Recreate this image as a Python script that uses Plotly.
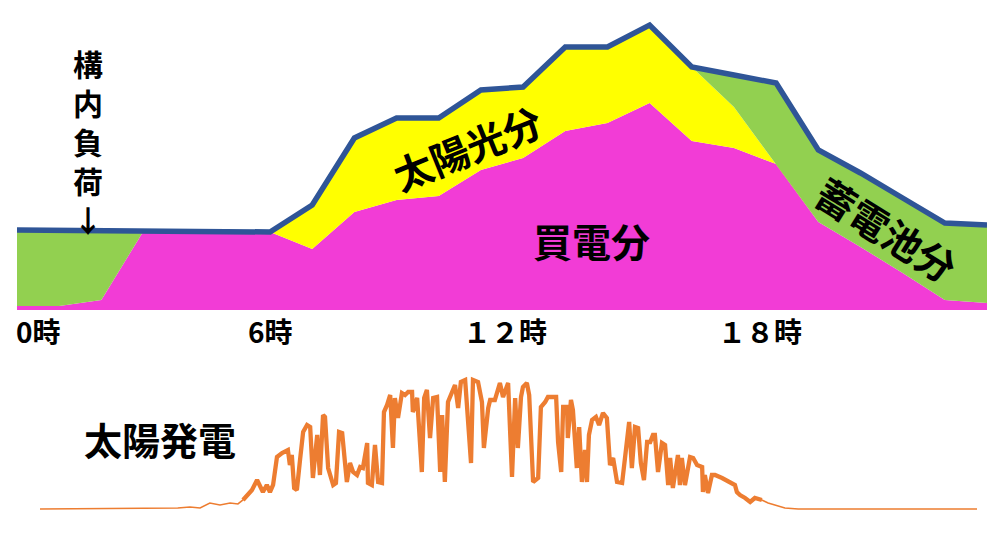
import plotly.graph_objects as go

# ---- top chart: hourly load breakdown ----
hours = list(range(24))
load = [80, 79.5, 79, 79, 78.5, 78, 78, 105, 172, 192, 192, 220, 223, 263, 263,
        285, 243, 235, 227, 160, 137, 112, 87, 85]
grid_buy = [4, 4, 10, 79, 78.5, 78, 78, 61, 98, 110, 114, 140, 152, 179, 187,
            207, 169, 162, 146, 88, 63, 37, 10, 7]
solar_share = [0, 0, 0, 0, 0, 0, 0, 44, 74, 82, 78, 80, 71, 84, 76,
               78, 74, 41, 0, 0, 0, 0, 0, 0]
battery_share = [76, 75.5, 69, 0, 0, 0, 0, 0, 0, 0, 0, 0, 0, 0, 0,
                 0, 0, 32, 81, 72, 74, 75, 77, 78]

tick_labels = ["0時", "6時", "１２時", "１８時"]
tick_pos = [0.5, 6.0, 11.57, 17.62]

# ---- bottom chart: solar generation ----
solar_t = [0.00, 3.53, 3.84, 4.10, 4.35, 4.61, 4.87, 5.07, 5.20, 5.43,
           5.56, 5.64, 5.71, 5.81, 5.89, 5.97, 6.07, 6.20, 6.28, 6.35,
           6.40, 6.45, 6.51, 6.58, 6.66, 6.74, 6.84, 6.92, 6.99, 7.10,
           7.17, 7.25, 7.30, 7.38, 7.51, 7.58, 7.66, 7.74, 7.81, 7.86,
           7.94, 8.02, 8.12, 8.20, 8.27, 8.38, 8.40, 8.50, 8.58, 8.66,
           8.76, 8.81, 8.89, 8.97, 9.04, 9.09, 9.17, 9.27, 9.35, 9.43,
           9.53, 9.55, 9.66, 9.73, 9.78, 9.84, 9.91, 9.99, 10.07, 10.17,
           10.25, 10.30, 10.37, 10.45, 10.55, 10.63, 10.71, 10.78, 10.89, 10.96,
           11.04, 11.09, 11.22, 11.32, 11.37, 11.48, 11.53, 11.65, 11.78, 11.86,
           11.99, 12.09, 12.17, 12.24, 12.32, 12.37, 12.47, 12.53, 12.63, 12.76,
           12.83, 12.94, 13.01, 13.22, 13.27, 13.35, 13.40, 13.50, 13.52, 13.60,
           13.65, 13.75, 13.81, 13.88, 13.96, 14.01, 14.06, 14.14, 14.24, 14.32,
           14.42, 14.52, 14.60, 14.68, 14.78, 14.91, 15.01, 15.09, 15.16, 15.24,
           15.32, 15.39, 15.47, 15.55, 15.63, 15.70, 15.75, 15.83, 15.93, 16.01,
           16.09, 16.14, 16.21, 16.34, 16.39, 16.44, 16.52, 16.65, 16.73, 16.83,
           16.96, 16.98, 17.03, 17.11, 17.21, 17.29, 17.47, 17.73, 17.80, 17.85,
           17.93, 18.06, 18.19, 18.31, 18.49, 18.65, 18.83, 19.08, 19.42, 24.00]
solar_p = [0, 1, 2, 1, 6, 4, 6, 5, 9, 19,
           29, 22, 17, 24, 17, 24, 52, 56, 57, 59,
           44, 54, 21, 19, 49, 77, 84, 82, 31, 74,
           34, 94, 92, 41, 24, 26, 77, 76, 47, 27,
           46, 37, 34, 42, 41, 66, 26, 24, 64, 27,
           26, 97, 104, 114, 61, 111, 91, 116, 114, 117,
           117, 97, 111, 61, 37, 111, 119, 71, 111, 112,
           37, 94, 27, 107, 116, 124, 101, 127, 129, 91,
           46, 129, 127, 107, 61, 101, 109, 109, 126, 112,
           126, 32, 111, 61, 112, 122, 126, 114, 27, 31,
           102, 107, 112, 112, 67, 37, 102, 102, 71, 109,
           99, 41, 82, 27, 59, 27, 74, 89, 92, 84,
           96, 91, 44, 51, 27, 26, 61, 87, 41, 82,
           81, 46, 29, 67, 67, 74, 74, 37, 66, 64,
           24, 51, 21, 54, 24, 51, 24, 52, 51, 44,
           42, 17, 34, 16, 34, 34, 31, 26, 24, 17,
           14, 11, 7, 11, 9, 6, 4, 1, 0, 0]

PINK = "#F23CD6"
YELLOW = "#FFFF00"
GREEN = "#92D050"
BLUE = "#2F5597"
ORANGE = "#ED7D31"
FONT = "Noto Sans CJK JP"

W, H = 1002, 534

fig = go.Figure()

for vals, col, name in [(grid_buy, PINK, "買電分"), (solar_share, YELLOW, "太陽光分"),
                        (battery_share, GREEN, "蓄電池分")]:
    fig.add_trace(go.Scatter(x=hours, y=vals, name=name, stackgroup="s", mode="lines",
                             line=dict(width=0, color=col), fillcolor=col,
                             xaxis="x", yaxis="y", hoverinfo="skip"))

fig.add_trace(go.Scatter(x=hours, y=load, name="構内負荷", mode="lines",
                         line=dict(color=BLUE, width=5.5), xaxis="x", yaxis="y"))

# solar generation: thin full trace + thicker daytime part
fig.add_trace(go.Scatter(x=solar_t, y=solar_p, mode="lines",
                         line=dict(color=ORANGE, width=1.6), xaxis="x2", yaxis="y2"))
fig.add_trace(go.Scatter(x=solar_t[8:165], y=solar_p[8:165], mode="lines",
                         line=dict(color=ORANGE, width=4.3), xaxis="x2", yaxis="y2"))

ann = []
big = dict(family=FONT, size=39, color="black", weight="bold")
# vertical label 構内負荷 with arrow
ann.append(dict(x=1.68, y=310 - 141, xref="x", yref="y",
                text="構<br>内<br>負<br>荷<br>↓", showarrow=False, align="center",
                font=dict(family=FONT, size=30, color="black", weight="bold")))
ann.append(dict(x=10.67, y=163, xref="x", yref="y", text="太陽光分", textangle=-22,
                showarrow=False, font=big))
ann.append(dict(x=13.63, y=70, xref="x", yref="y", text="買電分", showarrow=False,
                font=big))
ann.append(dict(x=20.63, y=81, xref="x", yref="y", text="蓄電池分", textangle=32,
                showarrow=False, font=big))
for t, p in zip(tick_labels, tick_pos):
    ann.append(dict(x=p, y=1 - 331 / H, xref="x", yref="paper", text=t, showarrow=False,
                    font=dict(family=FONT, size=28, color="black", weight="bold")))
ann.append(dict(x=3.07, y=71, xref="x2", yref="y2", text="太陽発電", showarrow=False,
                font=dict(family=FONT, size=38, color="black", weight="bold")))

fig.update_layout(
    width=W, height=H, margin=dict(l=0, r=0, t=0, b=0),
    paper_bgcolor="white", plot_bgcolor="white", showlegend=False,
    hovermode=False,
    xaxis=dict(domain=[17 / W, 987 / W], range=[0, 23], visible=False, fixedrange=True),
    yaxis=dict(domain=[1 - 310 / H, 1 - 10 / H], range=[0, 300], visible=False),
    xaxis2=dict(domain=[40 / W, 977 / W], range=[0, 24], visible=False, anchor="y2"),
    yaxis2=dict(domain=[1 - 512 / H, 1 - 370 / H], range=[-3, 139], visible=False,
                anchor="x2"),
    annotations=ann,
)

fig.write_html("out.html", config={"displayModeBar": False},
               post_script="document.body.style.margin='0';"
                           "document.body.style.overflow='hidden';")
